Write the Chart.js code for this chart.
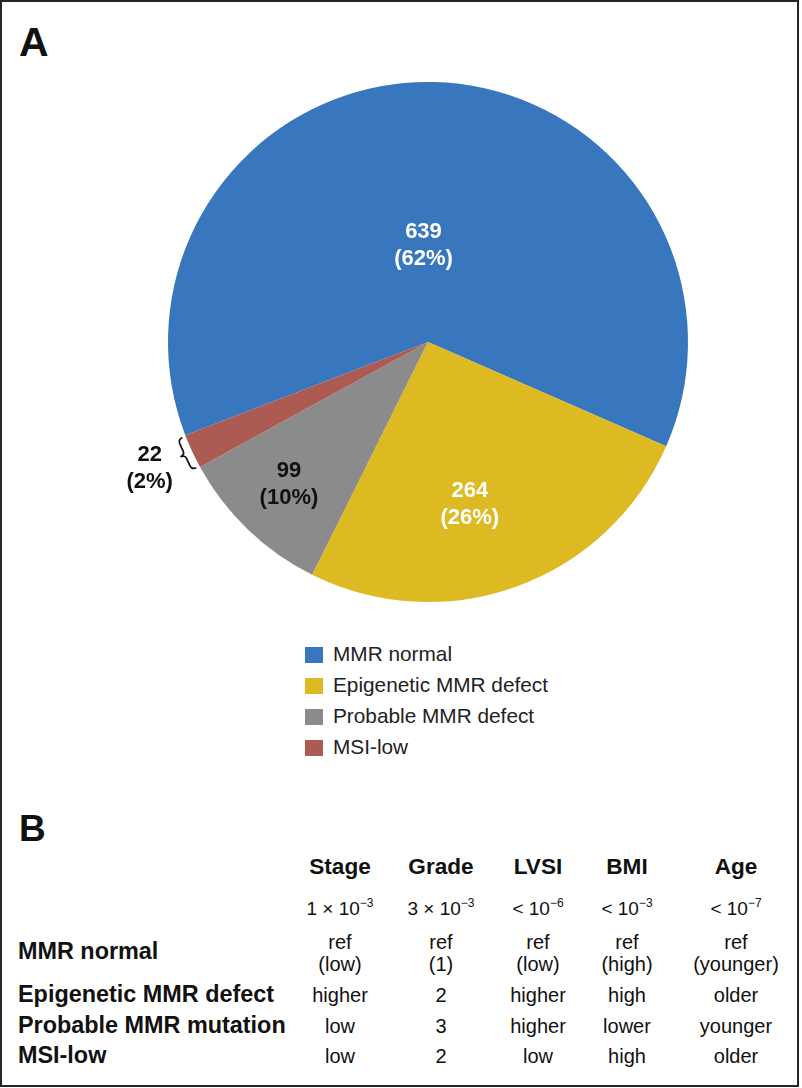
<!DOCTYPE html>
<html>
<head>
<meta charset="utf-8">
<script src="https://cdn.jsdelivr.net/npm/chart.js@4.4.0/dist/chart.umd.min.js"></script>
<style>
  html, body { margin: 0; padding: 0; background: #fff; }
  body { width: 802px; height: 1088px; position: relative; overflow: hidden; font-family: "Liberation Sans", Arial, sans-serif; color: #111; }
  #frame { position: absolute; left: 0; top: 0; width: 799px; height: 1087px; border: 2px solid #262626; box-sizing: border-box; }
  #chartBox { position: absolute; left: 0; top: 0; width: 800px; height: 640px; }
  .panel { position: absolute; font-weight: bold; line-height: 1; }
  .t { position: absolute; transform: translate(-50%, -50%); white-space: nowrap; line-height: 1; }
  .rowlab { position: absolute; transform: translate(0, -50%); white-space: nowrap; font-weight: bold; font-size: 23.4px; line-height: 1; }
  .hdr { font-weight: bold; font-size: 22.6px; }
  .cell { font-size: 20px; text-align: center; }
  .pv { font-size: 19px; }
  .pv sup { font-size: 12px; vertical-align: 0; position: relative; top: -8px; }
  .leg { position: absolute; left: 305px; font-size: 20.8px; color: #222; white-space: nowrap; }
  .leg i { position: absolute; left: 0; top: 0; width: 18px; height: 16px; }
  .leg span { position: absolute; left: 28px; top: -3px; line-height: 1; }
</style>
</head>
<body>
<div id="frame"></div>
<div class="panel" style="left:19px; top:22px; font-size:41px;">A</div>
<div class="panel" style="left:19px; top:810px; font-size:37px;">B</div>
<div id="chartBox"><canvas id="c"></canvas></div>
<div id="legend"></div>
<div id="table"></div>
<script>
// ---- data ----
const categories = ['MMR normal', 'Epigenetic MMR defect', 'Probable MMR defect', 'MSI-low'];
const counts = [639, 264, 99, 22];

const tableColumns = ['Stage', 'Grade', 'LVSI', 'BMI', 'Age'];
const pPrefix = ['1 \u00d7 10', '3 \u00d7 10', '< 10', '< 10', '< 10'];
const pExponent = ['\u22123', '\u22123', '\u22126', '\u22123', '\u22127'];
const tableRows = ['MMR normal', 'Epigenetic MMR defect', 'Probable MMR mutation', 'MSI-low'];
const stageVals = ['ref|(low)', 'higher', 'low', 'low'];
const gradeVals = ['ref|(1)', '2', '3', '2'];
const lvsiVals = ['ref|(low)', 'higher', 'higher', 'low'];
const bmiVals = ['ref|(high)', 'high', 'lower', 'high'];
const ageVals = ['ref|(younger)', 'older', 'younger', 'older'];

// ---- styles ----
const sliceColors = ['#3877BD', '#DDBA22', '#8B8B8B', '#AB5B52'];
const labelColors = ['#ffffff', '#ffffff', '#111111', '#111111'];
const labelPlacement = [{f: 0.372, da: -4}, {f: 0.645, da: 5.5}, {f: 0.765, da: 0.5}, {f: 1.175, da: 0.5}];

const total = counts.reduce((a, b) => a + b, 0);

const labelPlugin = {
  id: 'sliceLabels',
  afterDatasetsDraw(chart) {
    const ctx = chart.ctx;
    const meta = chart.getDatasetMeta(0);
    ctx.save();
    ctx.font = 'bold 22px "Liberation Sans", Arial, sans-serif';
    ctx.textAlign = 'center';
    ctx.textBaseline = 'middle';
    meta.data.forEach((arc, i) => {
      const p = arc.getProps(['x', 'y', 'startAngle', 'endAngle', 'outerRadius'], true);
      const mid = (p.startAngle + p.endAngle) / 2 + labelPlacement[i].da * Math.PI / 180;
      const r = p.outerRadius * labelPlacement[i].f;
      const x = p.x + Math.cos(mid) * r;
      const y = p.y + Math.sin(mid) * r;
      ctx.fillStyle = labelColors[i];
      ctx.fillText(String(counts[i]), x, y - 13.5);
      ctx.fillText('(' + Math.round(counts[i] / total * 100) + '%)', x, y + 13.5);
    });
    // brace next to the smallest slice
    const last = meta.data[meta.data.length - 1];
    const q = last.getProps(['x', 'y', 'startAngle', 'endAngle', 'outerRadius'], true);
    const m = (q.startAngle + q.endAngle) / 2;
    const R = q.outerRadius;
    const h = (q.endAngle - q.startAngle) / 2 * R * 0.95;
    ctx.translate(q.x, q.y);
    ctx.rotate(m);
    ctx.strokeStyle = '#111';
    ctx.lineWidth = 1.7;
    ctx.beginPath();
    ctx.moveTo(R + 3, -h);
    ctx.quadraticCurveTo(R + 8, -h, R + 8, -h + 5);
    ctx.lineTo(R + 8, -4);
    ctx.quadraticCurveTo(R + 8, 0, R + 13, 0);
    ctx.quadraticCurveTo(R + 8, 0, R + 8, 4);
    ctx.lineTo(R + 8, h - 5);
    ctx.quadraticCurveTo(R + 8, h, R + 3, h);
    ctx.stroke();
    ctx.restore();
  }
};

new Chart(document.getElementById('c'), {
  type: 'pie',
  data: {
    labels: categories,
    datasets: [{ data: counts, backgroundColor: sliceColors, borderWidth: 0 }]
  },
  options: {
    responsive: true,
    maintainAspectRatio: false,
    animation: false,
    rotation: -111,
    layout: { padding: { left: 168, right: 112, top: 82, bottom: 38 } },
    plugins: { legend: { display: false }, tooltip: { enabled: false } }
  },
  plugins: [labelPlugin]
});

// legend
const legendTops = [647, 678, 709, 740];
const legendEl = document.getElementById('legend');
categories.forEach((c, i) => {
  const d = document.createElement('div');
  d.className = 'leg';
  d.style.top = legendTops[i] + 'px';
  d.innerHTML = '<i style="background:' + sliceColors[i] + '"></i><span>' + c + '</span>';
  legendEl.appendChild(d);
});

// table
const tableEl = document.getElementById('table');
const colX = [340, 441, 538, 627, 736];
const headerY = 867, pY = 908;
const rowY = [952, 995, 1026, 1056];
const cols = [stageVals, gradeVals, lvsiVals, bmiVals, ageVals];
function add(cls, x, y, html) {
  const d = document.createElement('div');
  d.className = cls;
  d.style.left = x + 'px';
  d.style.top = y + 'px';
  d.innerHTML = html;
  tableEl.appendChild(d);
}
tableColumns.forEach((h, j) => {
  add('t hdr', colX[j], headerY, h);
  add('t pv', colX[j], pY, pPrefix[j].replace('<', '&lt;') + '<sup>' + pExponent[j] + '</sup>');
});
tableRows.forEach((r, i) => {
  add('rowlab', 18, rowY[i], r);
  cols.forEach((col, j) => {
    const v = col[i];
    if (v.indexOf('|') >= 0) {
      const parts = v.split('|');
      add('t cell', colX[j], rowY[i] - 10, parts[0]);
      add('t cell', colX[j], rowY[i] + 12, parts[1]);
    } else {
      add('t cell', colX[j], rowY[i], v);
    }
  });
});
</script>
</body>
</html>
